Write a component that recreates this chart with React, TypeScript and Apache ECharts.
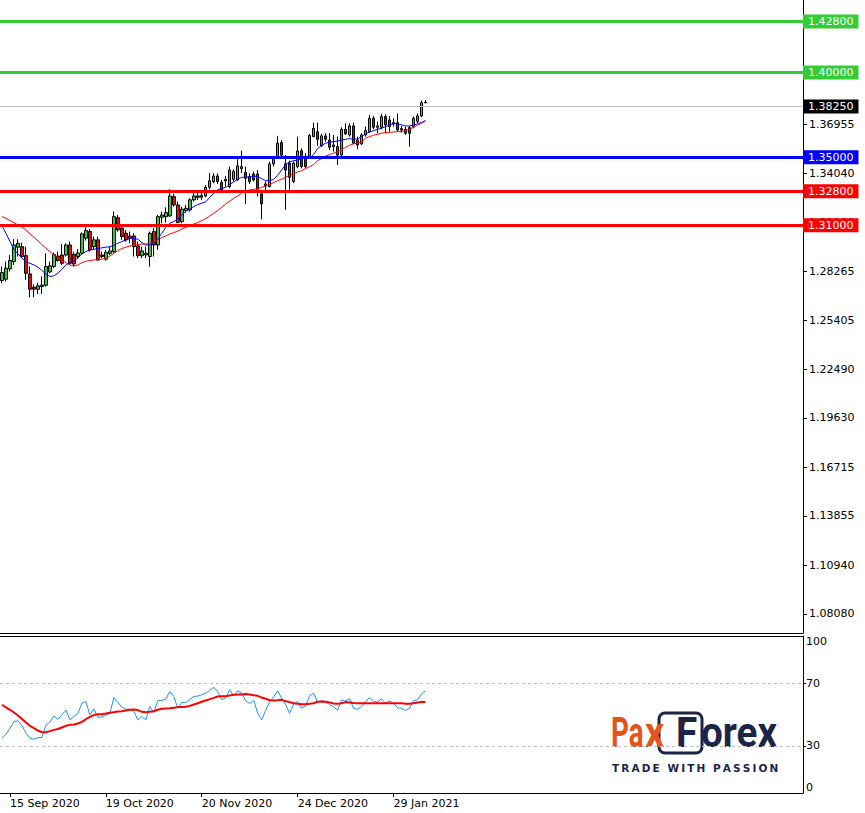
import React, { useEffect, useRef } from "react";
import * as echarts from "echarts";

const dates = [
  "11 Sep 2020",
  "14 Sep 2020", "15 Sep 2020", "16 Sep 2020", "17 Sep 2020", "18 Sep 2020",
  "21 Sep 2020", "22 Sep 2020", "23 Sep 2020", "24 Sep 2020", "25 Sep 2020",
  "28 Sep 2020", "29 Sep 2020", "30 Sep 2020", "1 Oct 2020", "2 Oct 2020",
  "5 Oct 2020", "6 Oct 2020", "7 Oct 2020", "8 Oct 2020", "9 Oct 2020",
  "12 Oct 2020", "13 Oct 2020", "14 Oct 2020", "15 Oct 2020", "16 Oct 2020",
  "19 Oct 2020", "20 Oct 2020", "21 Oct 2020", "22 Oct 2020", "23 Oct 2020",
  "26 Oct 2020", "27 Oct 2020", "28 Oct 2020", "29 Oct 2020", "30 Oct 2020",
  "2 Nov 2020", "3 Nov 2020", "4 Nov 2020", "5 Nov 2020", "6 Nov 2020",
  "9 Nov 2020", "10 Nov 2020", "11 Nov 2020", "12 Nov 2020", "13 Nov 2020",
  "16 Nov 2020", "17 Nov 2020", "18 Nov 2020", "19 Nov 2020", "20 Nov 2020",
  "23 Nov 2020", "24 Nov 2020", "25 Nov 2020", "26 Nov 2020", "27 Nov 2020",
  "30 Nov 2020", "1 Dec 2020", "2 Dec 2020", "3 Dec 2020", "4 Dec 2020",
  "7 Dec 2020", "8 Dec 2020", "9 Dec 2020", "10 Dec 2020", "11 Dec 2020",
  "14 Dec 2020", "15 Dec 2020", "16 Dec 2020", "17 Dec 2020", "18 Dec 2020",
  "21 Dec 2020", "22 Dec 2020", "23 Dec 2020", "24 Dec 2020",
  "28 Dec 2020", "29 Dec 2020", "30 Dec 2020", "31 Dec 2020",
  "4 Jan 2021", "5 Jan 2021", "6 Jan 2021", "7 Jan 2021", "8 Jan 2021",
  "11 Jan 2021", "12 Jan 2021", "13 Jan 2021", "14 Jan 2021", "15 Jan 2021",
  "18 Jan 2021", "19 Jan 2021", "20 Jan 2021", "21 Jan 2021", "22 Jan 2021",
  "25 Jan 2021", "26 Jan 2021", "27 Jan 2021", "28 Jan 2021", "29 Jan 2021",
  "1 Feb 2021", "2 Feb 2021", "3 Feb 2021", "4 Feb 2021", "5 Feb 2021",
  "8 Feb 2021", "9 Feb 2021", "10 Feb 2021",
];

const opens = [
  1.2773, 1.2781, 1.2842, 1.2885, 1.2970, 1.2973, 1.2920, 1.2812, 1.2734, 1.2722,
  1.2738, 1.2745, 1.2824, 1.2856, 1.2918, 1.2924, 1.2924, 1.2983, 1.2928, 1.2915,
  1.2934, 1.3023, 1.3062, 1.2973, 1.3013, 1.2924, 1.2899, 1.2934, 1.2944, 1.3144,
  1.3082, 1.3052, 1.3036, 1.3036, 1.2977, 1.2920, 1.2924, 1.2915, 1.3062, 1.2983,
  1.3146, 1.3150, 1.3154, 1.3268, 1.3219, 1.3121, 1.3186, 1.3190, 1.3249, 1.3264,
  1.3264, 1.3272, 1.3323, 1.3355, 1.3390, 1.3351, 1.3361, 1.3327, 1.3370, 1.3366,
  1.3433, 1.3412, 1.3386, 1.3402, 1.3402, 1.3284, 1.3331, 1.3327, 1.3461, 1.3504,
  1.3587, 1.3461, 1.3465, 1.3357, 1.3445, 1.3539, 1.3504, 1.3500, 1.3622, 1.3651,
  1.3567, 1.3626, 1.3602, 1.3563, 1.3563, 1.3514, 1.3665, 1.3632, 1.3685, 1.3602,
  1.3579, 1.3632, 1.3651, 1.3730, 1.3677, 1.3677, 1.3740, 1.3720, 1.3704, 1.3704,
  1.3669, 1.3665, 1.3675, 1.3681, 1.3710, 1.3744, 1.3822,
];
const highs = [
  1.2856, 1.2885, 1.2924, 1.3017, 1.3017, 1.2997, 1.2973, 1.2856, 1.2751, 1.2761,
  1.2797, 1.2934, 1.2885, 1.2938, 1.2944, 1.2989, 1.2993, 1.3003, 1.2944, 1.2958,
  1.3056, 1.3087, 1.3076, 1.3032, 1.3032, 1.2944, 1.2954, 1.2973, 1.3180, 1.3160,
  1.3101, 1.3072, 1.3062, 1.3052, 1.3003, 1.2973, 1.2973, 1.3062, 1.3082, 1.3160,
  1.3180, 1.3205, 1.3311, 1.3284, 1.3239, 1.3209, 1.3219, 1.3258, 1.3308, 1.3292,
  1.3288, 1.3337, 1.3406, 1.3406, 1.3406, 1.3366, 1.3390, 1.3445, 1.3429, 1.3504,
  1.3539, 1.3445, 1.3406, 1.3416, 1.3425, 1.3308, 1.3357, 1.3475, 1.3504, 1.3626,
  1.3602, 1.3514, 1.3480, 1.3475, 1.3622, 1.3553, 1.3524, 1.3638, 1.3704, 1.3704,
  1.3638, 1.3642, 1.3642, 1.3632, 1.3622, 1.3677, 1.3700, 1.3700, 1.3704, 1.3622,
  1.3642, 1.3681, 1.3750, 1.3744, 1.3710, 1.3756, 1.3754, 1.3744, 1.3730, 1.3759,
  1.3685, 1.3681, 1.3685, 1.3740, 1.3759, 1.3834, 1.3838,
];
const lows = [
  1.2757, 1.2767, 1.2826, 1.2865, 1.2915, 1.2905, 1.2777, 1.2675, 1.2675, 1.2694,
  1.2694, 1.2738, 1.2816, 1.2846, 1.2885, 1.2865, 1.2915, 1.2865, 1.2856, 1.2905,
  1.2924, 1.3009, 1.2944, 1.2954, 1.2891, 1.2905, 1.2891, 1.2924, 1.2934, 1.3062,
  1.3013, 1.3003, 1.2993, 1.2915, 1.2905, 1.2905, 1.2905, 1.2856, 1.2915, 1.2954,
  1.3111, 1.3115, 1.3150, 1.3209, 1.3111, 1.3111, 1.3174, 1.3180, 1.3239, 1.3249,
  1.3249, 1.3264, 1.3311, 1.3347, 1.3343, 1.3298, 1.3327, 1.3317, 1.3357, 1.3362,
  1.3406, 1.3225, 1.3343, 1.3357, 1.3268, 1.3135, 1.3298, 1.3323, 1.3445, 1.3494,
  1.3504, 1.3190, 1.3308, 1.3347, 1.3435, 1.3435, 1.3435, 1.3494, 1.3618, 1.3567,
  1.3563, 1.3592, 1.3543, 1.3533, 1.3455, 1.3508, 1.3632, 1.3622, 1.3579, 1.3547,
  1.3573, 1.3622, 1.3645, 1.3665, 1.3642, 1.3665, 1.3642, 1.3651, 1.3681, 1.3651,
  1.3645, 1.3632, 1.3563, 1.3671, 1.3700, 1.3736, 1.3818,
];
const closes = [
  1.2820, 1.2846, 1.2891, 1.2983, 1.2993, 1.2915, 1.2816, 1.2722, 1.2722, 1.2742,
  1.2747, 1.2856, 1.2860, 1.2926, 1.2891, 1.2875, 1.2983, 1.2875, 1.2871, 1.2936,
  1.3048, 1.3068, 1.2954, 1.3013, 1.2895, 1.2915, 1.2940, 1.2948, 1.3150, 1.3072,
  1.3032, 1.3013, 1.3021, 1.2973, 1.2920, 1.2948, 1.2934, 1.3052, 1.2983, 1.3150,
  1.3160, 1.3174, 1.3272, 1.3219, 1.3115, 1.3194, 1.3199, 1.3249, 1.3272, 1.3272,
  1.3275, 1.3323, 1.3362, 1.3390, 1.3357, 1.3308, 1.3370, 1.3425, 1.3416, 1.3449,
  1.3445, 1.3376, 1.3357, 1.3366, 1.3311, 1.3225, 1.3343, 1.3461, 1.3498, 1.3583,
  1.3512, 1.3425, 1.3382, 1.3465, 1.3537, 1.3445, 1.3445, 1.3628, 1.3671, 1.3606,
  1.3626, 1.3606, 1.3559, 1.3573, 1.3512, 1.3665, 1.3638, 1.3685, 1.3583, 1.3573,
  1.3632, 1.3657, 1.3730, 1.3677, 1.3685, 1.3740, 1.3691, 1.3681, 1.3697, 1.3661,
  1.3661, 1.3642, 1.3642, 1.3730, 1.3744, 1.3822, 1.3825,
];

const fastMA = [
  1.3095, 1.3052, 1.3003, 1.2958, 1.2930, 1.2905, 1.2885, 1.2875, 1.2865, 1.2852,
  1.2832, 1.2812, 1.2797, 1.2801, 1.2816, 1.2840, 1.2865, 1.2879, 1.2891, 1.2905,
  1.2930, 1.2944, 1.2954, 1.2958, 1.2962, 1.2966, 1.2970, 1.2973, 1.2981, 1.2993,
  1.3003, 1.3013, 1.3021, 1.3021, 1.3017, 1.2997, 1.2983, 1.2983, 1.2993, 1.3017,
  1.3052, 1.3087, 1.3111, 1.3121, 1.3135, 1.3160, 1.3182, 1.3194, 1.3209, 1.3221,
  1.3229, 1.3237, 1.3264, 1.3288, 1.3308, 1.3315, 1.3323, 1.3339, 1.3355, 1.3370,
  1.3382, 1.3382, 1.3386, 1.3390, 1.3386, 1.3374, 1.3362, 1.3362, 1.3370, 1.3394,
  1.3425, 1.3457, 1.3473, 1.3480, 1.3484, 1.3492, 1.3494, 1.3496, 1.3516, 1.3551,
  1.3571, 1.3583, 1.3589, 1.3592, 1.3596, 1.3602, 1.3606, 1.3610, 1.3606, 1.3608,
  1.3622, 1.3638, 1.3649, 1.3657, 1.3665, 1.3671, 1.3681, 1.3691, 1.3699, 1.3697,
  1.3691, 1.3685, 1.3685, 1.3691, 1.3697, 1.3706, 1.3716,
];
const slowMA = [
  1.3150, 1.3140, 1.3127, 1.3115, 1.3101, 1.3087, 1.3072, 1.3048, 1.3028, 1.3007,
  1.2985, 1.2964, 1.2944, 1.2924, 1.2909, 1.2895, 1.2879, 1.2865, 1.2860, 1.2865,
  1.2879, 1.2887, 1.2891, 1.2895, 1.2895, 1.2899, 1.2905, 1.2918, 1.2934, 1.2950,
  1.2962, 1.2970, 1.2977, 1.2981, 1.2983, 1.2989, 1.2989, 1.2993, 1.3003, 1.3013,
  1.3027, 1.3036, 1.3048, 1.3056, 1.3064, 1.3076, 1.3087, 1.3095, 1.3107, 1.3115,
  1.3127, 1.3138, 1.3154, 1.3170, 1.3186, 1.3205, 1.3225, 1.3241, 1.3258, 1.3272,
  1.3288, 1.3300, 1.3308, 1.3311, 1.3315, 1.3323, 1.3331, 1.3339, 1.3351, 1.3362,
  1.3370, 1.3382, 1.3394, 1.3402, 1.3414, 1.3421, 1.3433, 1.3445, 1.3457, 1.3480,
  1.3492, 1.3508, 1.3516, 1.3524, 1.3532, 1.3543, 1.3559, 1.3571, 1.3579, 1.3583,
  1.3592, 1.3612, 1.3622, 1.3630, 1.3636, 1.3642, 1.3645, 1.3647, 1.3649, 1.3651,
  1.3653, 1.3657, 1.3665, 1.3677, 1.3689, 1.3700, 1.3714,
];

const rsi = [
  34.9, 37.4, 41.3, 45.5, 46.0, 42.8, 38.1, 34.9, 34.2, 35.3,
  35.3, 43.2, 45.1, 49.1, 47.0, 49.8, 52.8, 46.6, 48.7, 50.8,
  57.2, 58.3, 49.8, 53.6, 48.1, 48.5, 49.6, 50.6, 60.8, 57.7,
  54.7, 53.4, 53.4, 52.1, 46.6, 48.7, 46.6, 55.1, 51.3, 58.9,
  58.9, 59.8, 64.7, 61.5, 54.0, 57.7, 57.7, 59.6, 61.5, 61.7,
  62.6, 63.6, 65.3, 67.4, 64.6, 59.4, 60.6, 65.7, 61.9, 65.1,
  63.6, 58.7, 57.0, 59.1, 50.8, 46.6, 52.6, 57.9, 61.3, 65.1,
  60.4, 56.2, 50.8, 56.8, 58.3, 54.0, 55.5, 61.9, 63.6, 57.9,
  58.7, 58.3, 56.2, 55.1, 52.6, 59.4, 58.5, 60.2, 53.8, 53.4,
  55.1, 58.1, 60.8, 58.5, 57.9, 60.0, 57.0, 58.7, 57.2, 54.3,
  54.0, 52.6, 53.8, 58.7, 59.4, 63.2, 65.1,
];
const rsiMA = [
  56.2, 54.5, 53.0, 51.3, 49.4, 47.2, 44.9, 42.8, 41.3, 39.8,
  38.7, 38.7, 39.4, 40.2, 40.8, 41.7, 42.8, 43.4, 43.6, 44.3,
  45.3, 47.0, 48.5, 49.6, 50.2, 50.2, 50.6, 51.1, 51.5, 51.9,
  52.1, 52.6, 53.0, 53.2, 52.8, 51.7, 51.5, 51.7, 52.1, 53.0,
  53.6, 53.8, 54.0, 54.3, 54.7, 54.7, 54.9, 55.5, 56.4, 57.2,
  58.1, 58.9, 59.8, 60.6, 61.5, 61.7, 61.7, 62.1, 62.6, 62.8,
  62.8, 63.0, 62.8, 62.3, 61.9, 60.8, 60.0, 59.1, 58.9, 59.1,
  59.4, 58.5, 57.9, 57.2, 56.8, 56.6, 56.6, 56.8, 57.2, 58.1,
  58.3, 58.1, 57.7, 57.0, 56.8, 57.2, 57.9, 57.7, 57.4, 57.2,
  57.2, 57.2, 57.2, 57.2, 57.2, 57.2, 57.2, 57.2, 57.2, 57.2,
  57.2, 56.8, 56.8, 57.2, 57.7, 57.9, 57.9,
];

const priceTicks = [1.0808, 1.1094, 1.13855, 1.16715, 1.1963, 1.2249, 1.25405, 1.28265, 1.3118, 1.3404, 1.36955];
const rsiTicks = [0, 30, 70, 100];
const rsiLevels = [30, 70];
const targetLevels = [1.428, 1.4];
const supportLevel = [1.35];
const resistanceLevels = [1.328, 1.31];
const bidPrice = 1.3825;
const arrowStart = [108, 1.3826];
const arrowEnd = [114.3, 1.4252];

const FONT = "DejaVu Sans";
const GREEN = "#32CD32";
const NAVY = "#1B2547";
const ORANGE = "#E5531D";
const TS = "\u2009";

export default function App() {
  const ref = useRef<HTMLDivElement>(null);

  useEffect(() => {
    if (!ref.current) return;
    const chart = echarts.init(ref.current, null, { renderer: "svg" });
    const last = dates.length - 1;
    const showLabel = (i: number) => i <= last && (i - 2) % 24 === 0;

    const levelLine = (v: number, color: string, width: number) => ({
      yAxis: v,
      lineStyle: { color, width, type: "solid" },
      label: {
        show: true,
        position: "end",
        formatter: v.toFixed(5),
        backgroundColor: color,
        color: "#fff",
        fontFamily: FONT,
        fontSize: 11,
        lineHeight: 12,
        padding: [1, 5, 1, 5],
        distance: 0,
      },
    });

    const candleData = dates.map((_, i) => [opens[i], closes[i], lows[i], highs[i]]);
    const tagline = ["TRADE", "WITH", "PASSION"].map((w) => w.split("").join(TS)).join(TS + " " + TS);
    const logoFont = "bold 42px Roboto";

    const option: any = {
      animation: false,
      backgroundColor: "#ffffff",
      grid: [
        { left: -1, top: 0, width: 804, height: 633 },
        { left: -1, top: 636, width: 804, height: 157 },
      ],
      xAxis: [
        {
          type: "category",
          gridIndex: 0,
          data: dates,
          max: 200,
          axisLine: { show: true, lineStyle: { color: "#000", width: 1 } },
          axisTick: { show: false },
          axisLabel: { show: false },
          splitLine: { show: false },
        },
        {
          type: "category",
          gridIndex: 1,
          data: dates,
          max: 200,
          axisLine: { show: true, lineStyle: { color: "#000", width: 1 } },
          axisTick: {
            show: true,
            interval: (i: number) => showLabel(i),
            alignWithLabel: true,
            length: 4,
            lineStyle: { color: "#000" },
          },
          axisLabel: {
            interval: (i: number) => showLabel(i),
            align: "left",
            color: "#000",
            fontFamily: FONT,
            fontSize: 11,
            margin: 5,
          },
          splitLine: { show: false },
        },
        {
          type: "category",
          gridIndex: 1,
          position: "top",
          data: dates,
          max: 200,
          axisLine: { show: true, lineStyle: { color: "#000", width: 1 } },
          axisTick: { show: false },
          axisLabel: { show: false },
        },
      ],
      yAxis: [
        {
          type: "value",
          gridIndex: 0,
          position: "right",
          min: 1.06951,
          max: 1.44274,
          axisLine: { show: true, lineStyle: { color: "#000", width: 1 } },
          axisTick: { show: true, length: 4, customValues: priceTicks, lineStyle: { color: "#000" } },
          axisLabel: {
            customValues: priceTicks,
            formatter: (v: number) => v.toFixed(5),
            color: "#000",
            fontFamily: FONT,
            fontSize: 11,
            margin: 6,
          },
          splitLine: { show: false },
        },
        {
          type: "value",
          gridIndex: 1,
          position: "right",
          min: 0,
          max: 100,
          axisLine: { show: true, lineStyle: { color: "#000", width: 1 } },
          axisTick: { show: true, length: 3, customValues: rsiLevels, lineStyle: { color: "#000" } },
          axisLabel: {
            customValues: rsiTicks,
            color: "#000",
            fontFamily: FONT,
            fontSize: 11,
            margin: 3,
            verticalAlignMinLabel: "bottom",
            verticalAlignMaxLabel: "top",
          },
          splitLine: { show: false },
        },
      ],
      series: [
        {
          type: "candlestick",
          xAxisIndex: 0,
          yAxisIndex: 0,
          data: candleData,
          barWidth: 3,
          itemStyle: {
            color: GREEN,
            color0: "#FF0000",
            borderColor: "#000",
            borderColor0: "#000",
            borderWidth: 1,
          },
          markLine: {
            silent: true,
            symbol: "none",
            animation: false,
            z: 10,
            data: [
              ...targetLevels.map((v) => levelLine(v, GREEN, 3)),
              {
                yAxis: bidPrice,
                lineStyle: { color: "#C0C0C0", width: 1, type: "solid" },
                label: {
                  show: true,
                  position: "end",
                  formatter: bidPrice.toFixed(5),
                  backgroundColor: "#000",
                  color: "#fff",
                  fontFamily: FONT,
                  fontSize: 11,
                  lineHeight: 12,
                  padding: [1, 5, 1, 5],
                  distance: 0,
                },
              },
              ...supportLevel.map((v) => levelLine(v, "#0000FF", 3)),
              ...resistanceLevels.map((v) => levelLine(v, "#FF0000", 3)),
              [
                {
                  coord: arrowStart,
                  symbol: "none",
                  lineStyle: { color: "#33DD22", width: 3, type: "solid" },
                  label: { show: false },
                },
                { coord: arrowEnd, symbol: "arrow", symbolSize: [11, 13] },
              ],
            ],
          },
        },
        {
          type: "line",
          xAxisIndex: 0,
          yAxisIndex: 0,
          data: fastMA,
          showSymbol: false,
          symbol: "none",
          lineStyle: { color: "#0000FF", width: 1 },
          z: 3,
        },
        {
          type: "line",
          xAxisIndex: 0,
          yAxisIndex: 0,
          data: slowMA,
          showSymbol: false,
          symbol: "none",
          lineStyle: { color: "#FF0000", width: 1 },
          z: 3,
        },
        {
          type: "line",
          xAxisIndex: 1,
          yAxisIndex: 1,
          data: rsi,
          symbol: "none",
          lineStyle: { color: "#1E90FF", width: 1 },
          markLine: {
            silent: true,
            symbol: "none",
            label: { show: false },
            lineStyle: { color: "#C0C0C0", width: 1, type: [3, 3] },
            data: rsiLevels.map((v) => ({ yAxis: v })),
          },
        },
        {
          type: "line",
          xAxisIndex: 1,
          yAxisIndex: 1,
          data: rsiMA,
          symbol: "none",
          lineStyle: { color: "#FF0000", width: 2 },
        },
      ],
      graphic: [
        {
          type: "group",
          z: 100,
          children: [
            { type: "rect", shape: { x: 608, y: 706, width: 175, height: 70 }, style: { fill: "#fff" } },
            {
              type: "rect",
              shape: { x: 659, y: 713, width: 43, height: 40, r: 6 },
              style: { fill: "none", stroke: NAVY, lineWidth: 3 },
            },
            {
              type: "text",
              x: 611,
              y: 733,
              scaleX: 0.66,
              style: { text: "Pa", x: 0, y: 0, fill: ORANGE, font: logoFont, verticalAlign: "middle" },
            },
            {
              type: "text",
              x: 645,
              y: 733,
              scaleX: 0.9,
              style: { text: "x", x: 0, y: 0, fill: ORANGE, font: logoFont, verticalAlign: "middle" },
            },
            {
              type: "polygon",
              shape: { points: [[683, 717], [689, 717], [684, 726], [678, 726]] },
              style: { fill: ORANGE },
            },
            {
              type: "text",
              x: 676,
              y: 733,
              scaleX: 0.92,
              style: { text: "F", x: 0, y: 0, fill: NAVY, font: logoFont, verticalAlign: "middle" },
            },
            {
              type: "text",
              x: 701,
              y: 733,
              scaleX: 0.92,
              style: { text: "orex", x: 0, y: 0, fill: NAVY, font: logoFont, verticalAlign: "middle" },
            },
            {
              type: "text",
              style: {
                text: tagline,
                x: 612,
                y: 768,
                fill: NAVY,
                font: "bold 10.5px 'DejaVu Sans'",
                verticalAlign: "middle",
              },
            },
          ],
        },
      ],
    };

    chart.setOption(option);
    return () => chart.dispose();
  }, []);

  return (
    <div
      ref={ref}
      style={{ position: "absolute", left: 0, top: 0, width: 865, height: 813, background: "#fff" }}
    />
  );
}
